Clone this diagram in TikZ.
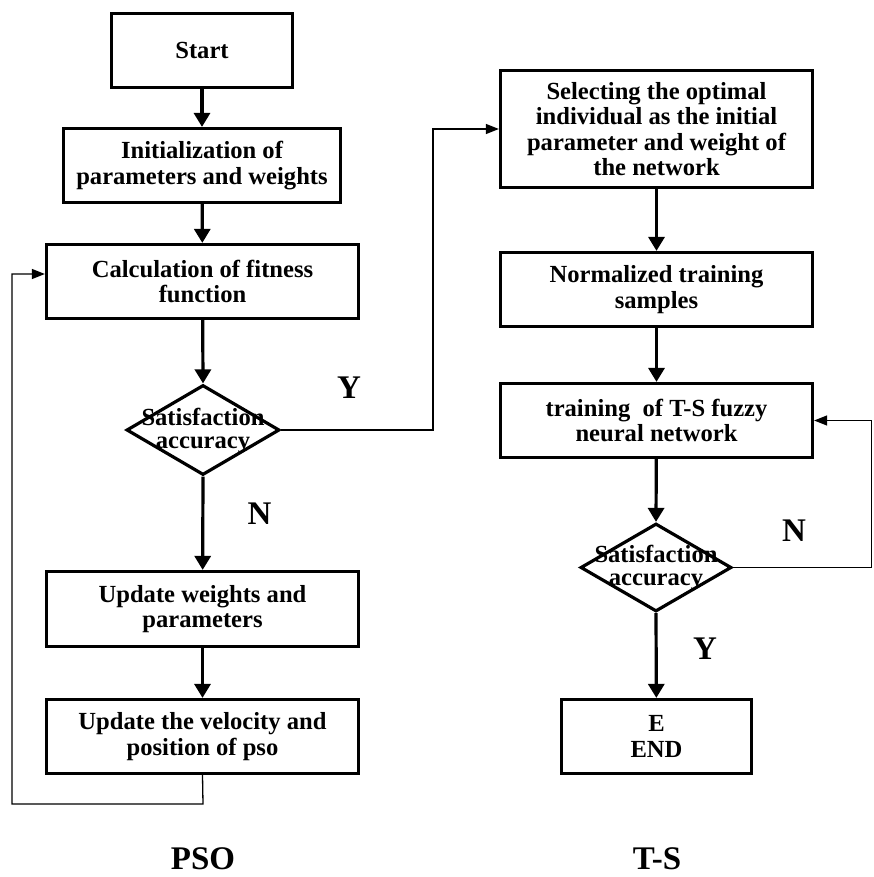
\documentclass[tikz,border=0pt]{standalone}
\usepackage{fontspec}
\setmainfont{Liberation Serif}
\usetikzlibrary{arrows.meta,shapes.geometric}
\newcommand\bxfont{\fontsize{24.6}{25.5}\selectfont\bfseries}
\newcommand\dgfont{\fontsize{24.6}{23}\selectfont\bfseries}
\newcommand\lbfont{\fontsize{33}{36}\selectfont\bfseries}
\begin{document}
\begin{tikzpicture}[x=1pt,y=-1pt,
  box/.style={draw, rectangle, line width=3.2pt, align=center, inner sep=0pt, font=\bxfont},
  dia/.style={draw, diamond, line width=3.2pt, inner sep=0pt},
  diatext/.style={align=center, inner sep=0pt, font=\dgfont},
  lbl/.style={inner sep=0pt, font=\lbfont},
  arr/.style={line width=3.2pt, -{Triangle[length=14pt,width=16pt]}},
  thinarr/.style={line width=1.3pt, -{Triangle[length=13pt,width=10pt]}},
  thinline/.style={line width=1.3pt}]
\useasboundingbox (0,0) rectangle (873,877);
% PSO column
\node[box, minimum width=181pt, minimum height=74pt] (start) at (202,50.5) {Start};
\node[box, minimum width=277pt, minimum height=74pt] (init) at (202,165.5) {Initialization of\\parameters and weights};
\node[box, minimum width=312pt, minimum height=74pt] (calc) at (202.5,281.5) {Calculation of fitness\\function};
\node[dia, minimum width=153pt, minimum height=90pt] (dia1) at (203,430) {};
\node[diatext] (dia1t) at (203,431) {Satisfaction\\accuracy};
\node[box, minimum width=312pt, minimum height=75pt] (upd1) at (202.5,609) {Update weights and\\parameters};
\node[box, minimum width=312pt, minimum height=74pt] (upd2) at (202.5,736.5) {Update the velocity and\\position of pso};
% T-S column
\node[box, minimum width=312pt, minimum height=117pt] (select) at (656.5,129) {Selecting the optimal\\individual as the initial\\parameter and weight of\\the network};
\node[box, minimum width=312pt, minimum height=74pt] (norm) at (656.5,289.5) {Normalized training\\samples};
\node[box, minimum width=312pt, minimum height=74pt] (train) at (656.5,420.5) {training\ \ of T-S fuzzy\\neural network};
\node[dia, minimum width=151pt, minimum height=88pt] (dia2) at (656,567.5) {};
\node[diatext] (dia2t) at (656,568) {Satisfaction\\accuracy};
\node[box, minimum width=190pt, minimum height=74pt] (end) at (656.5,736.5) {E\\END};
% labels
\node[lbl] (ly1) at (349,388) {Y};
\node[lbl] (ln1) at (259.5,513.5) {N};
\node[lbl] (ln2) at (794,531) {N};
\node[lbl] (ly2) at (705,649) {Y};
\node[lbl] (pso) at (203,859) {PSO};
\node[lbl] (ts) at (657,859) {T-S};
% thick arrows
\draw[arr] (start) -- (init);
\draw[arr] (init) -- (calc);
\draw[arr] (calc) -- (dia1.north);
\draw[arr] (dia1.south) -- (upd1);
\draw[arr] (upd1) -- (upd2);
\draw[arr] (select) -- (norm);
\draw[arr] (norm) -- (train);
\draw[arr] (train) -- (dia2.north);
\draw[arr] (dia2.south) -- (end);
% thin connectors
\coordinate (yB) at (433,129);
\draw[thinarr] (dia1.east) -| (yB) -- (select.west);
\coordinate (fb1) at (203,804);
\coordinate (fb2) at (12,274);
\draw[thinarr] (upd2.south) -- (fb1) -| (fb2) -- (calc.west |- fb2);
\coordinate (nB) at (871.5,420.5);
\draw[thinarr] (dia2.east) -| (nB) -- (train.east);
\end{tikzpicture}
\end{document}
